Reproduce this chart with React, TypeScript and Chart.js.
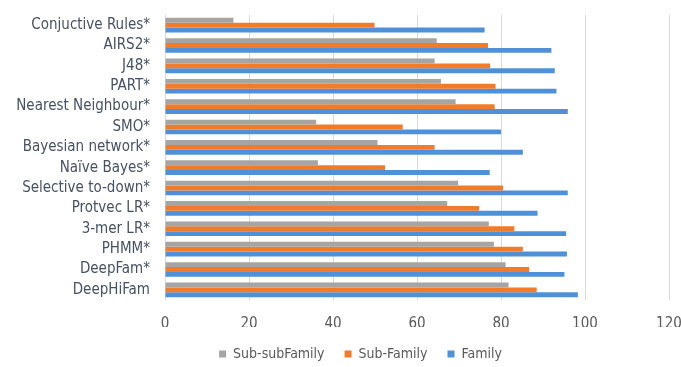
import React, { useEffect, useRef } from "react";
import { Chart, registerables } from "chart.js";

Chart.register(...registerables);

const methods = [
  "Conjuctive Rules*",
  "AIRS2*",
  "J48*",
  "PART*",
  "Nearest Neighbour*",
  "SMO*",
  "Bayesian network*",
  "Naïve Bayes*",
  "Selective to-down*",
  "Protvec LR*",
  "3-mer LR*",
  "PHMM*",
  "DeepFam*",
  "DeepHiFam",
];

const subSubFamily = [16.3, 64.7, 64.2, 65.7, 69.2, 36.0, 50.6, 36.4, 69.8, 67.2, 77.1, 78.3, 81.1, 81.8];
const subFamily = [49.9, 76.9, 77.4, 78.7, 78.5, 56.6, 64.2, 52.4, 80.5, 74.8, 83.2, 85.2, 86.7, 88.5];
const family = [76.1, 92.0, 92.8, 93.2, 95.9, 80.0, 85.2, 77.3, 95.9, 88.7, 95.5, 95.7, 95.1, 98.3];

const xTicks = [0, 20, 40, 60, 80, 100, 120];

const FONT = "'Liberation Sans Narrow', 'DejaVu Sans Condensed', 'Open Sans', sans-serif";

// Shifts the bottom legend to the right so it sits under the middle of the plot
const legendShift = {
  id: "legendShift",
  afterLayout(chart: any) {
    const lg = chart.legend;
    if (!lg) return;
    lg.left += 26;
    lg.right += 26;
  },
};

export default function App() {
  const canvasRef = useRef<HTMLCanvasElement | null>(null);

  useEffect(() => {
    if (!canvasRef.current) return;
    const chart = new Chart(canvasRef.current, {
      type: "bar",
      data: {
        labels: methods,
        datasets: [
          { label: "Sub-subFamily", data: subSubFamily, backgroundColor: "#a5a5a5" },
          { label: "Sub-Family", data: subFamily, backgroundColor: "#f07c2a" },
          { label: "Family", data: family, backgroundColor: "#4f91d8" },
        ],
      },
      plugins: [legendShift],
      options: {
        indexAxis: "y",
        animation: false,
        responsive: false,
        maintainAspectRatio: false,
        datasets: {
          bar: { categoryPercentage: 0.72, barPercentage: 1.0 },
        },
        layout: { padding: { top: 15, right: 12, bottom: 0, left: 0 } },
        plugins: {
          tooltip: { enabled: false },
          legend: {
            position: "bottom",
            maxHeight: 40,
            labels: {
              boxWidth: 7,
              boxHeight: 7,
              padding: 20,
              color: "#595959",
              font: { family: FONT, size: 14 },
            },
          },
        },
        scales: {
          x: {
            min: 0,
            max: 120,
            afterBuildTicks: (scale: any) => {
              scale.ticks = xTicks.map((v) => ({ value: v }));
            },
            afterFit: (scale: any) => {
              scale.height = 27;
              scale.paddingLeft = 0;
              scale.paddingRight = 0;
            },
            grid: { color: "#d9d9d9", drawTicks: false },
            border: { display: false },
            ticks: {
              padding: 15,
              color: "#595959",
              font: { family: FONT, size: 15 },
            },
          },
          y: {
            afterFit: (scale: any) => {
              scale.width = 165;
              scale.paddingTop = 0;
              scale.paddingBottom = 0;
            },
            grid: { display: false, drawTicks: false },
            border: { display: false },
            ticks: {
              padding: 15,
              color: "#465163",
              autoSkip: false,
              font: { family: FONT, size: 15 },
            },
          },
        },
      },
    });
    return () => chart.destroy();
  }, []);

  return (
    <div style={{ position: "fixed", left: 0, top: 0, width: 681, height: 367, background: "#fff" }}>
      <canvas ref={canvasRef} width={681} height={367} style={{ display: "block" }} />
    </div>
  );
}
